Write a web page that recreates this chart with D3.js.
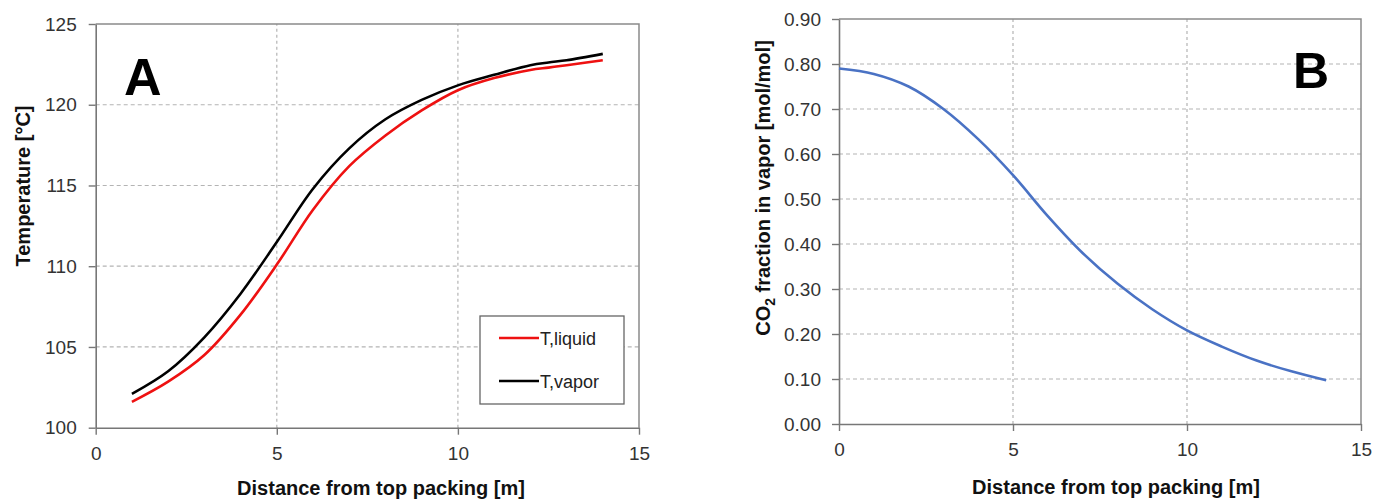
<!DOCTYPE html>
<html>
<head>
<meta charset="utf-8">
<script src="https://cdn.jsdelivr.net/npm/d3@7"></script>
<style>
  html, body { margin: 0; padding: 0; background: #fff; }
  svg { display: block; font-family: "Liberation Sans", Arial, sans-serif; }
</style>
</head>
<body>
<svg id="chart" width="1373" height="499"></svg>
<script>
// ---------- Data ----------
const distA = [1, 2, 3, 4, 5, 6, 7, 8, 9, 10, 11, 12, 12.5, 13, 14];
const tLiquid = [101.6, 102.85, 104.5, 107.0, 110.1, 113.5, 116.2, 118.1, 119.65, 120.9, 121.65, 122.15, 122.3, 122.45, 122.75];
const tVapor  = [102.1, 103.5, 105.6, 108.3, 111.5, 114.8, 117.3, 119.1, 120.3, 121.2, 121.85, 122.45, 122.62, 122.75, 123.15];
const seriesNamesA = ["T,liquid", "T,vapor"];

const distB = [0, 1, 2, 3, 4, 5, 6, 7, 8, 9, 10, 11, 12, 13, 14];
const co2Vapor = [0.790, 0.778, 0.750, 0.700, 0.633, 0.553, 0.462, 0.380, 0.312, 0.255, 0.208, 0.172, 0.141, 0.117, 0.097];

const xTicks = [0, 5, 10, 15];
const yTicksA = [100, 105, 110, 115, 120, 125];
const yTicksB = [0, 0.1, 0.2, 0.3, 0.4, 0.5, 0.6, 0.7, 0.8, 0.9];

const xTitle = "Distance from top packing [m]";
const yTitleA = "Temperature [°C]";

// ---------- Setup ----------
const svg = d3.select("#chart");
const gridColor = "#b4b4b4";
const axisColor = "#777";
const tickTextColor = "#333";

function panel(opts) {
  const { x, y, yTicks, yFmt, yPad } = opts;
  const g = svg.append("g");
  const [x0, x1] = x.range();
  const [y0, y1] = y.range();

  g.selectAll(".hg").data(yTicks.slice(1, -1)).enter().append("line")
    .attr("x1", x0).attr("x2", x1)
    .attr("y1", d => y(d)).attr("y2", d => y(d))
    .attr("stroke", gridColor).attr("stroke-width", 1.2)
    .attr("stroke-dasharray", "4,3");
  g.selectAll(".vg").data(xTicks.slice(1, -1)).enter().append("line")
    .attr("x1", d => x(d)).attr("x2", d => x(d))
    .attr("y1", y0).attr("y2", y1)
    .attr("stroke", gridColor).attr("stroke-width", 1.2)
    .attr("stroke-dasharray", "3,3");
  g.append("path")
    .attr("d", `M${x0},${y1}H${x1}V${y0}`)
    .attr("fill", "none").attr("stroke", "#8a8a8a").attr("stroke-width", 1.5);

  const xAxis = g.append("g").attr("transform", `translate(0,${y0})`)
    .call(d3.axisBottom(x).tickValues(xTicks).tickSize(7).tickPadding(12).tickSizeOuter(0));
  const yAxis = g.append("g").attr("transform", `translate(${x0},0)`)
    .call(d3.axisLeft(y).tickValues(yTicks).tickFormat(yFmt).tickSize(7).tickPadding(yPad).tickSizeOuter(0));
  [xAxis, yAxis].forEach(a => {
    a.select(".domain").attr("stroke", axisColor).attr("stroke-width", 1.6);
    a.selectAll(".tick line").attr("stroke", axisColor).attr("stroke-width", 1.4);
    a.selectAll(".tick text").attr("fill", tickTextColor)
      .style("font-size", "19px").style("font-family", "'Liberation Sans', Arial, sans-serif");
  });
  return g;
}

// ---------- Panel A ----------
const xA = d3.scaleLinear().domain([0, 15]).range([95.7, 639]);
const yA = d3.scaleLinear().domain([100, 125]).range([427.7, 24]);
const gA = panel({ x: xA, y: yA, yTicks: yTicksA, yFmt: d3.format("d"), yPad: 12 });

const lineA = d3.line().x(d => xA(d[0])).y(d => yA(d[1])).curve(d3.curveCatmullRom.alpha(0.5));
const colorsA = ["#ee1111", "#000000"];
[tLiquid, tVapor].forEach((vals, i) => {
  gA.append("path")
    .datum(distA.map((d, j) => [d, vals[j]]))
    .attr("d", lineA)
    .attr("fill", "none").attr("stroke", colorsA[i]).attr("stroke-width", 2.6);
});

const leg = gA.append("g");
leg.append("rect").attr("x", 480).attr("y", 316).attr("width", 144).attr("height", 88)
  .attr("fill", "#fff").attr("stroke", "#666").attr("stroke-width", 1.3);
seriesNamesA.forEach((name, i) => {
  const ly = 338 + i * 43;
  leg.append("line").attr("x1", 499).attr("x2", 539).attr("y1", ly).attr("y2", ly)
    .attr("stroke", colorsA[i]).attr("stroke-width", 2.6);
  leg.append("text").attr("x", 540).attr("y", ly + 6.5).text(name)
    .attr("fill", "#222").style("font-size", "18px");
});

gA.append("text").attr("x", 124).attr("y", 95).text("A")
  .style("font-size", "52px").style("font-weight", "bold").attr("fill", "#000");

gA.append("text").attr("x", 381).attr("y", 495).attr("text-anchor", "middle")
  .text(xTitle).style("font-size", "20px").style("font-weight", "bold").attr("fill", "#111");
gA.append("text").attr("transform", "translate(30,186) rotate(-90)").attr("text-anchor", "middle")
  .text(yTitleA).style("font-size", "20px").style("font-weight", "bold").attr("fill", "#111");

// ---------- Panel B ----------
const xB = d3.scaleLinear().domain([0, 15]).range([839, 1361]);
const yB = d3.scaleLinear().domain([0, 0.9]).range([424, 19]);
const gB = panel({ x: xB, y: yB, yTicks: yTicksB, yFmt: d3.format(".2f"), yPad: 11 });

const lineB = d3.line().x(d => xB(d[0])).y(d => yB(d[1])).curve(d3.curveCatmullRom.alpha(0.5));
gB.append("path")
  .datum(distB.map((d, j) => [d, co2Vapor[j]]))
  .attr("d", lineB)
  .attr("fill", "none").attr("stroke", "#4a72c4").attr("stroke-width", 2.6);

gB.append("text").attr("x", 1293).attr("y", 88).text("B")
  .style("font-size", "50px").style("font-weight", "bold").attr("fill", "#000");

gB.append("text").attr("x", 1116).attr("y", 494).attr("text-anchor", "middle")
  .text(xTitle).style("font-size", "20px").style("font-weight", "bold").attr("fill", "#111");
const yt = gB.append("text").attr("transform", "translate(770,188) rotate(-90)").attr("text-anchor", "middle")
  .style("font-size", "20px").style("font-weight", "bold").attr("fill", "#111");
yt.append("tspan").text("CO");
yt.append("tspan").text("2").attr("dy", 5).style("font-size", "14px");
yt.append("tspan").text(" fraction in vapor [mol/mol]").attr("dy", -5);
</script>
</body>
</html>
